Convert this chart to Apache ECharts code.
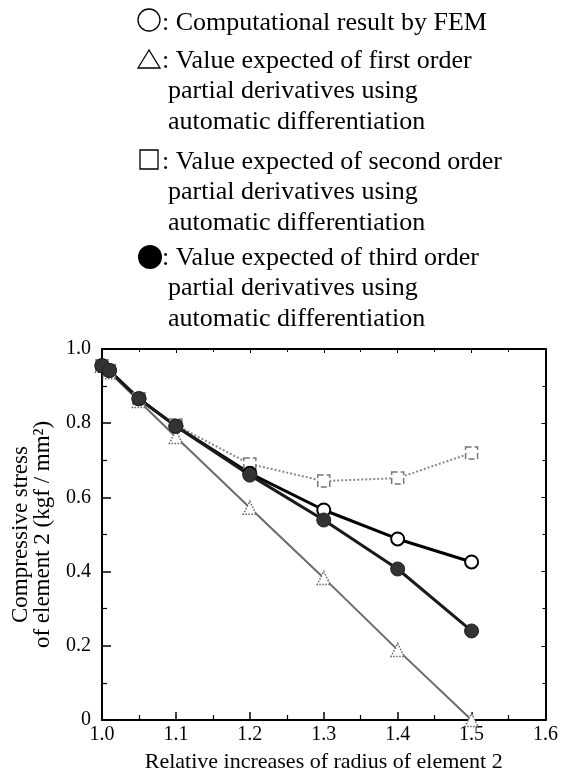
<!DOCTYPE html>
<html lang="en">
<head>
<meta charset="UTF-8">
<title>Compressive stress of element 2</title>
<script src="https://cdn.jsdelivr.net/npm/echarts@6/dist/echarts.min.js"></script>
<style>
    html, body { margin: 0; padding: 0; background: #fff; }
    #chart { width: 561px; height: 779px; }
</style>
</head>
<body>
<div id="chart"></div>
<script>
    // relative increase of radius of element 2
    const radius = [1.0, 1.01, 1.05, 1.1, 1.2, 1.3, 1.4, 1.5];
    // compressive stress (kgf/mm2)
    const fem = [0.955, 0.942, 0.866, 0.792, 0.665, 0.566, 0.488, 0.426];
    const firstOrder = [0.955, 0.937, 0.860, 0.763, 0.572, 0.383, 0.189, 0.0];
    const secondOrder = [0.955, 0.942, 0.866, 0.795, 0.690, 0.644, 0.652, 0.720];
    const thirdOrder = [0.955, 0.942, 0.866, 0.792, 0.660, 0.539, 0.407, 0.240];

    const legendText = [
        ['Computational result by FEM'],
        ['Value expected of first order', 'partial derivatives using', 'automatic differentiation'],
        ['Value expected of second order', 'partial derivatives using', 'automatic differentiation'],
        ['Value expected of third order', 'partial derivatives using', 'automatic differentiation']
    ];

    const FONT = '"Liberation Serif", "Times New Roman", serif';

    function pairs(ys) {
        return radius.map(function (x, i) { return [x, ys[i]]; });
    }

    // legend drawn by hand, symbol + colon + lines of text
    const blockBase = [31, 69, 170, 266];
    const lineStep = 30.5;
    let graphics = [
        { type: 'circle', shape: { cx: 149, cy: 20, r: 11 }, style: { fill: '#fff', stroke: '#000', lineWidth: 1.3 } },
        { type: 'polygon', shape: { points: [[149, 50], [138, 68], [160, 68]] }, style: { fill: '#fff', stroke: '#000', lineWidth: 1.3 } },
        { type: 'rect', shape: { x: 140, y: 150, width: 18, height: 19 }, style: { fill: '#fff', stroke: '#000', lineWidth: 1.3 } },
        { type: 'circle', shape: { cx: 150, cy: 257, r: 12 }, style: { fill: '#000' } }
    ];
    legendText.forEach(function (lines, b) {
        lines.forEach(function (t, i) {
            graphics.push({
                type: 'text',
                style: {
                    text: i === 0 ? ': ' + t : t,
                    x: i === 0 ? 162 : 168,
                    y: blockBase[b] + i * lineStep - 8,
                    verticalAlign: 'middle',
                    font: '26px ' + FONT,
                    fill: '#000'
                }
            });
        });
    });

    const axisCommon = {
        type: 'value',
        axisLine: { onZero: false, lineStyle: { color: '#000', width: 2 } },
        splitLine: { show: false }
    };

    const chart = echarts.init(document.getElementById('chart'));
    chart.setOption({
        animation: false,
        backgroundColor: '#fff',
        grid: { left: 102, right: 13, top: 349, bottom: 59 },
        graphic: graphics,
        xAxis: [
            Object.assign({}, axisCommon, {
                position: 'bottom', min: 1.0, max: 1.6, interval: 0.1,
                axisTick: { inside: true, length: 8, lineStyle: { color: '#000', width: 1.5 } },
                minorTick: { show: true, splitNumber: 2, length: 5, lineStyle: { color: '#000', width: 1.2 } },
                axisLabel: {
                    color: '#000', fontFamily: FONT, fontSize: 20, margin: 5,
                    formatter: function (v) { return v.toFixed(1); }
                },
                name: 'Relative increases of radius of element 2',
                nameLocation: 'middle', nameGap: 31,
                nameTextStyle: { color: '#000', fontFamily: FONT, fontSize: 22 }
            }),
            Object.assign({}, axisCommon, {
                position: 'top', min: 1.0, max: 1.6, interval: 0.1,
                axisTick: { inside: true, length: 4, lineStyle: { color: '#000', width: 1 } },
                minorTick: { show: true, splitNumber: 2, length: 3, lineStyle: { color: '#000', width: 1 } },
                axisLabel: { show: false }
            })
        ],
        yAxis: [
            Object.assign({}, axisCommon, {
                position: 'left', min: 0, max: 1.0, interval: 0.2,
                axisTick: { inside: true, length: 9, lineStyle: { color: '#000', width: 1.5 } },
                minorTick: { show: true, splitNumber: 2, length: 5, lineStyle: { color: '#000', width: 1.2 } },
                axisLabel: {
                    color: '#000', fontFamily: FONT, fontSize: 20, margin: 11,
                    formatter: function (v) { return v === 0 ? '0' : v.toFixed(1); }
                },
                name: 'Compressive stress\nof element 2 (kgf / mm²)',
                nameLocation: 'middle', nameGap: 48,
                nameTextStyle: { color: '#000', fontFamily: FONT, fontSize: 23, lineHeight: 22 }
            }),
            Object.assign({}, axisCommon, {
                position: 'right', min: 0, max: 1.0, interval: 0.2,
                axisTick: { inside: true, length: 4, lineStyle: { color: '#000', width: 1 } },
                minorTick: { show: true, splitNumber: 2, length: 3, lineStyle: { color: '#000', width: 1 } },
                axisLabel: { show: false }
            })
        ],
        series: [
            {
                name: 'second order', type: 'line', data: pairs(secondOrder),
                symbol: 'rect', symbolSize: 12,
                lineStyle: { color: '#8a8a8a', width: 2, type: 'dotted' },
                itemStyle: { color: '#fff', borderColor: '#777', borderWidth: 1.5, borderType: 'dashed' },
                emphasis: { disabled: true }
            },
            {
                name: 'first order', type: 'line', data: pairs(firstOrder),
                symbol: 'triangle', symbolSize: 13,
                lineStyle: { color: '#6a6a6a', width: 2 },
                itemStyle: { color: '#fff', borderColor: '#666', borderWidth: 1.5, borderType: 'dotted' },
                emphasis: { disabled: true }
            },
            {
                name: 'FEM', type: 'line', data: pairs(fem),
                symbol: 'circle', symbolSize: 13,
                lineStyle: { color: '#000', width: 3 },
                itemStyle: { color: '#fff', borderColor: '#000', borderWidth: 2 },
                emphasis: { disabled: true }
            },
            {
                name: 'third order', type: 'line', data: pairs(thirdOrder),
                symbol: 'circle', symbolSize: 14,
                lineStyle: { color: '#1a1a1a', width: 3 },
                itemStyle: { color: '#333', borderColor: '#222', borderWidth: 1 },
                emphasis: { disabled: true }
            }
        ]
    });
</script>
</body>
</html>
